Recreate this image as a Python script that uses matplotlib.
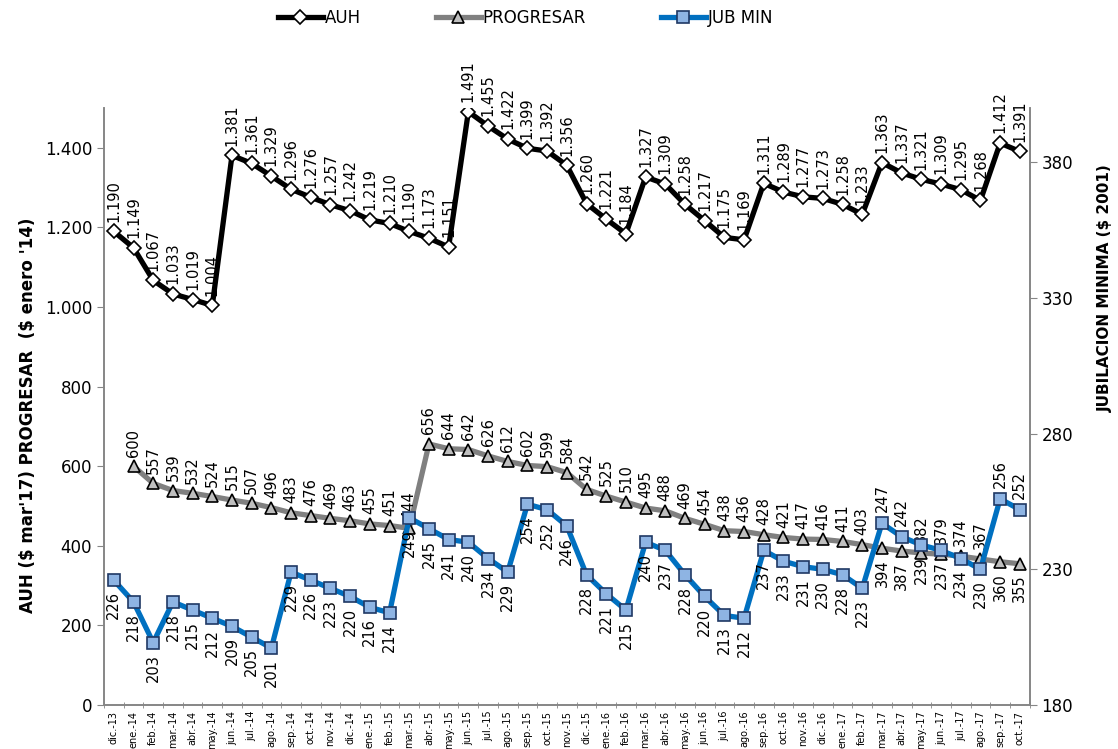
import matplotlib
matplotlib.use('Agg')
import matplotlib.pyplot as plt
import numpy as np

# categorias (meses)
meses = ['dic.-13',
         'ene.-14', 'feb.-14', 'mar.-14', 'abr.-14', 'may.-14', 'jun.-14',
         'jul.-14', 'ago.-14', 'sep.-14', 'oct.-14', 'nov.-14', 'dic.-14',
         'ene.-15', 'feb.-15', 'mar.-15', 'abr.-15', 'may.-15', 'jun.-15',
         'jul.-15', 'ago.-15', 'sep.-15', 'oct.-15', 'nov.-15', 'dic.-15',
         'ene.-16', 'feb.-16', 'mar.-16', 'abr.-16', 'may.-16', 'jun.-16',
         'jul.-16', 'ago.-16', 'sep.-16', 'oct.-16', 'nov.-16', 'dic.-16',
         'ene.-17', 'feb.-17', 'mar.-17', 'abr.-17', 'may.-17', 'jun.-17',
         'jul.-17', 'ago.-17', 'sep.-17', 'oct.-17']

auh = [1190, 1149, 1067, 1033, 1019, 1004, 1381, 1361, 1329, 1296, 1276, 1257,
       1242, 1219, 1210, 1190, 1173, 1151, 1491, 1455, 1422, 1399, 1392, 1356,
       1260, 1221, 1184, 1327, 1309, 1258, 1217, 1175, 1169, 1311, 1289, 1277,
       1273, 1258, 1233, 1363, 1337, 1321, 1309, 1295, 1268, 1412, 1391]

# PROGRESAR arranca en ene-14
progresar = [np.nan, 600, 557, 539, 532, 524, 515, 507, 496, 483, 476, 469,
             463, 455, 451, 444, 656, 644, 642, 626, 612, 602, 599, 584,
             542, 525, 510, 495, 488, 469, 454, 438, 436, 428, 421, 417,
             416, 411, 403, 394, 387, 382, 379, 374, 367, 360, 355]

jub_min = [226, 218, 203, 218, 215, 212, 209, 205, 201, 229, 226, 223,
           220, 216, 214, 249, 245, 241, 240, 234, 229, 254, 252, 246,
           228, 221, 215, 240, 237, 228, 220, 213, 212, 237, 233, 231,
           230, 228, 223, 247, 242, 239, 237, 234, 230, 256, 252]

# etiquetas que van del otro lado
prog_abajo = ['mar.-17', 'abr.-17', 'sep.-17', 'oct.-17']
jub_arriba = ['mar.-17', 'abr.-17', 'sep.-17', 'oct.-17']

def fmt(v):
    return f'{int(v):,}'.replace(',', '.')

x = np.arange(len(meses))

fig = plt.figure(figsize=(11.18, 7.49), dpi=100)
ax = fig.add_axes([0.093, 0.0587, 0.828, 0.797])
ax2 = ax.twinx()

gris_eje = '#868686'

l1, = ax.plot(x, auh, color='black', lw=3.8, marker='D', ms=7,
              mfc='white', mec='black', mew=1.2, label='AUH', zorder=3)
l2, = ax.plot(x, progresar, color='#808080', lw=3.8, marker='^', ms=8,
              mfc='#BFBFBF', mec='black', mew=1.2, label='PROGRESAR', zorder=2)
l3, = ax2.plot(x, jub_min, color='#0070C0', lw=3.8, marker='s', ms=9,
               mfc='#8EB4E3', mec='#1F3864', mew=1.2, label='JUB MIN', zorder=3)

lab_fs = 10.5
for i, v in enumerate(auh):
    ax.annotate(fmt(v), (x[i], v), xytext=(0, 7), textcoords='offset points',
                rotation=90, ha='center', va='bottom', fontsize=lab_fs)

for i, v in enumerate(progresar):
    if np.isnan(v):
        continue
    if meses[i] in prog_abajo:
        ax.annotate(fmt(v), (x[i], v), xytext=(0, -8), textcoords='offset points',
                    rotation=90, ha='center', va='top', fontsize=lab_fs)
    else:
        ax.annotate(fmt(v), (x[i], v), xytext=(0, 7), textcoords='offset points',
                    rotation=90, ha='center', va='bottom', fontsize=lab_fs)

for i, v in enumerate(jub_min):
    if meses[i] in jub_arriba:
        ax2.annotate(fmt(v), (x[i], v), xytext=(0, 8), textcoords='offset points',
                     rotation=90, ha='center', va='bottom', fontsize=lab_fs)
    else:
        ax2.annotate(fmt(v), (x[i], v), xytext=(0, -8), textcoords='offset points',
                     rotation=90, ha='center', va='top', fontsize=lab_fs)

# ejes
ax.set_xlim(-0.5, len(meses) - 0.5)
ax.set_ylim(0, 1500)
ax.set_yticks(range(0, 1401, 200))
ax.set_yticklabels([fmt(t) for t in range(0, 1401, 200)], fontsize=12)
ax2.set_ylim(180, 400)
ax2.set_yticks([180, 230, 280, 330, 380])
ax2.tick_params(axis='y', labelsize=12)

ax.set_xticks(x)
ax.set_xticklabels(meses, rotation=90, fontsize=7)
ax.set_xticks(np.arange(-0.5, len(meses), 1), minor=True)
ax.tick_params(axis='x', which='major', length=0, pad=4)
ax.tick_params(axis='x', which='minor', length=4, color=gris_eje, direction='inout')
ax.tick_params(axis='y', length=5, color=gris_eje)
ax2.tick_params(axis='y', length=5, color=gris_eje)

for a in (ax, ax2):
    a.spines['top'].set_visible(False)
    for s in ('left', 'right', 'bottom'):
        a.spines[s].set_color(gris_eje)
        a.spines[s].set_linewidth(1.2)

ax.set_ylabel("AUH (\\$ mar'17) PROGRESAR  (\\$ enero '14)", fontsize=12,
              fontweight='bold')
ax.yaxis.set_label_coords(-0.072, 0.485)
ax2.set_ylabel('JUBILACION MINIMA (\\$ 2001)', fontsize=11, fontweight='bold')
ax2.yaxis.set_label_coords(1.074, 0.698)

fig.legend(handles=[l1, l2, l3], loc='upper center', bbox_to_anchor=(0.47, 1.008),
           ncol=3, frameon=False, fontsize=12, handlelength=2.7,
           columnspacing=4.5, handletextpad=0.1)

fig.savefig('out.png', dpi=100)
